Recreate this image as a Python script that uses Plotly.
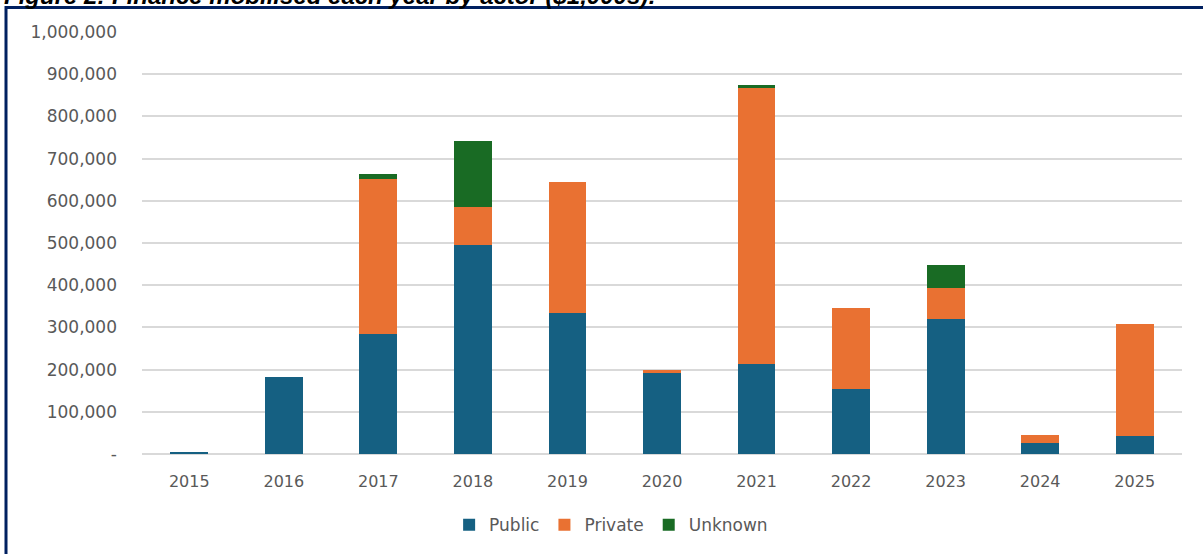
import plotly.graph_objects as go

years = ["2015", "2016", "2017", "2018", "2019", "2020", "2021", "2022", "2023", "2024", "2025"]
public = [4000, 182000, 284000, 496000, 333000, 191000, 214000, 153000, 320000, 25000, 43000]
private = [0, 0, 368000, 89000, 312000, 7000, 653000, 192000, 73000, 20000, 264000]
unknown = [0, 0, 11000, 156000, 0, 0, 8000, 0, 56000, 0, 0]

y_tickvals = [0, 100000, 200000, 300000, 400000, 500000, 600000, 700000, 800000, 900000, 1000000]
y_ticktext = ["-", "100,000", "200,000", "300,000", "400,000", "500,000", "600,000",
              "700,000", "800,000", "900,000", "1,000,000"]

title_text = "Figure 2: Finance mobilised each year by actor ($1,000s):"

FONT = "DejaVu Sans"
GREY = "#595959"

fig = go.Figure()
for name, vals, col in [("Public", public, "#156082"),
                        ("Private", private, "#E97132"),
                        ("Unknown", unknown, "#196B24")]:
    fig.add_trace(go.Bar(x=years, y=vals, name=name, marker_color=col,
                         marker_line_width=0))

fig.update_layout(
    width=1203, height=554,
    barmode="stack", bargap=0.6,
    paper_bgcolor="white", plot_bgcolor="white",
    margin=dict(l=142, r=21, t=32, b=100),
    font=dict(family=FONT, size=16, color=GREY),
    legend=dict(orientation="h", xref="container", yref="container",
                x=0.508, y=0.052, xanchor="center", yanchor="middle",
                font=dict(size=17, color=GREY), itemwidth=30,
                traceorder="normal"),
    showlegend=True,
)
fig.update_xaxes(showgrid=False, showline=False, ticks="",
                 tickfont=dict(size=16, color=GREY), ticklabelstandoff=16)
fig.update_yaxes(range=[0, 1000000], tickvals=y_tickvals, ticktext=y_ticktext,
                 showgrid=True, gridcolor="#D9D9D9", gridwidth=1.5,
                 zeroline=True, zerolinecolor="#D9D9D9", zerolinewidth=1.5,
                 showline=False, ticks="", ticklabelstandoff=24,
                 tickfont=dict(size=17, color=GREY))

# border around the chart
fig.add_shape(type="rect", xref="paper", yref="paper",
              x0=(6 - 142) / 1040, x1=(1215 - 142) / 1040,
              y0=(454 - 570) / 422, y1=(454 - 7.5) / 422,
              line=dict(color="#002060", width=3), fillcolor="rgba(0,0,0,0)",
              layer="below")

# partially visible title above the chart
fig.add_annotation(text="<b><i>" + title_text + "</i></b>", xref="paper", yref="paper",
                   x=(2 - 142) / 1040, y=(454 - 11) / 422, xanchor="left", yanchor="bottom",
                   showarrow=False, font=dict(family="Liberation Sans", size=24, color="black"))

fig.write_html("out.html")
